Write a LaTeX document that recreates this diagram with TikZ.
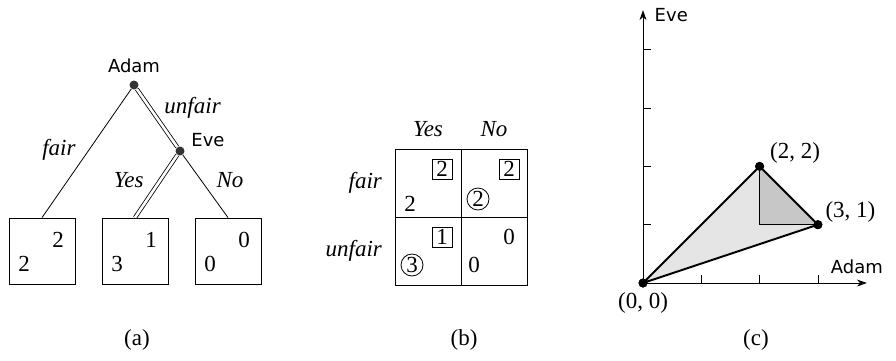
\documentclass[tikz,border=0pt]{standalone}
\usepackage{fontspec}
\setmainfont{Liberation Serif}
\newfontfamily\handfont{DejaVu Sans}
\usetikzlibrary{positioning,arrows.meta}

\begin{document}
\begin{tikzpicture}[
  x=1pt, y=-1pt, line width=0.8pt,
  every node/.style={font=\fontsize{23}{25}\selectfont},
  dot/.style={circle,fill=black!80,inner sep=0pt,minimum size=9pt},
  payoff/.style={draw,minimum size=66pt,inner sep=0pt},
  cell/.style={draw,minimum width=66pt,minimum height=68pt,inner sep=0pt},
  player/.style={font=\handfont\fontsize{18}{20}\selectfont},
  move/.style={font=\fontsize{23}{25}\selectfont\itshape},
  best/.style={draw,inner sep=1pt,minimum size=20pt},
  eq/.style={draw,circle,inner sep=0pt,minimum size=22pt},
  play/.style={double,double distance=2.6pt}
]
\useasboundingbox (0,0) rectangle (896,360);

% (a) the game tree
\node[dot] (adam) at (134,85) {};
\node[player,above=4pt of adam] (adamname) {Adam};
\node[dot] (eve) at (180,151) {};
\node[player] (evename) at (208,140) {Eve};
\node[payoff] (fairbox) at (42,251) {};
\node[payoff] (yesbox) at (135,251) {};
\node[payoff] (nobox) at (228,251) {};
\foreach \b/\e/\a in {fairbox/2/2, yesbox/1/3, nobox/0/0} {
  \node (\b-e) at ([shift={(16,-11)}]\b.center) {\e};
  \node (\b-a) at ([shift={(-18,13)}]\b.center) {\a};
}
\draw (adam) -- node[move,pos=0.47,left=10pt] {fair} (fairbox.north);
\draw[play] (adam) -- node[move,pos=0.32,right=11pt] {unfair} (eve);
\draw[play] (eve) -- node[move,pos=0.4,left=13pt] {Yes} (yesbox.north);
\draw (eve) -- node[move,pos=0.4,right=12pt] {No} (nobox.north);
\node (capa) at (137,340) {(a)};

% (b) the strategic form
\node[cell] (fy) at (428,183) {};
\node[cell] (fn) at (494,183) {};
\node[cell] (uy) at (428,251) {};
\node[cell] (un) at (494,251) {};
\node[move,above=8pt of fy] (colyes) {Yes};
\node[move,above=8pt of fn] (colno) {No};
\node[move,left=9pt of fy] (rowfair) {fair};
\node[move,left=9pt of uy] (rowunfair) {unfair};
\node[best] (fy-e) at ([shift={(14,-14)}]fy.center) {2};
\node (fy-a) at ([shift={(-18,21)}]fy.center) {2};
\node[best] (fn-e) at ([shift={(15,-14)}]fn.center) {2};
\node[eq] (fn-a) at ([shift={(-16,16)}]fn.center) {2};
\node[best] (uy-e) at ([shift={(14,-14)}]uy.center) {1};
\node[eq] (uy-a) at ([shift={(-16,14)}]uy.center) {3};
\node (un-e) at ([shift={(15,-14)}]un.center) {0};
\node (un-a) at ([shift={(-20,14)}]un.center) {0};
\node (capb) at (464,340) {(b)};

% (c) the payoff plane
\begin{scope}[shift={(643,283)}, x=58.3pt, y=58.3pt]
  \coordinate (xtip) at (3.84,0);
  \coordinate (ytip) at (0,4.68);
  \node[dot,fill=black] (o) at (0,0) {};
  \node[dot,fill=black] (p22) at (2,2) {};
  \node[dot,fill=black] (p31) at (3,1) {};
  \coordinate (p21) at (2,1);
  \fill[black!10] (o.center) -- (p22.center) -- (p31.center) -- cycle;
  \fill[black!22] (p22.center) -- (p21) -- (p31.center) -- cycle;
  \draw (p22.center) -- (p21) -- (p31.center);
  \draw[-{Stealth[length=10pt,width=7pt]}] (o.center) -- (xtip);
  \draw[-{Stealth[length=10pt,width=7pt]}] (o.center) -- (ytip);
  \foreach \i in {1,2,3} \draw (\i,0) -- (\i,0.14);
  \foreach \i in {1,2,3,4} \draw (0,\i) -- (0.14,\i);
  \draw[line width=2pt,line join=round] (o.center) -- (p22.center) -- (p31.center) -- cycle;
  \node[dot,fill=black] at (o) {};
  \node[dot,fill=black] at (p22) {};
  \node[dot,fill=black] at (p31) {};
  \node[player,right=8pt of ytip,yshift=-5pt] (evelbl) {Eve};
  \node[player,above=6pt of xtip,xshift=-10pt] (adamlbl) {Adam};
  \node[right=2pt of p22,yshift=13pt] (l22) {(2, 2)};
  \node[right=-1pt of p31,yshift=13pt] (l31) {(3, 1)};
  \node[below=1pt of o] (l00) {(0, 0)};
\end{scope}
\node (capc) at (756,340) {(c)};
\end{tikzpicture}
\end{document}
